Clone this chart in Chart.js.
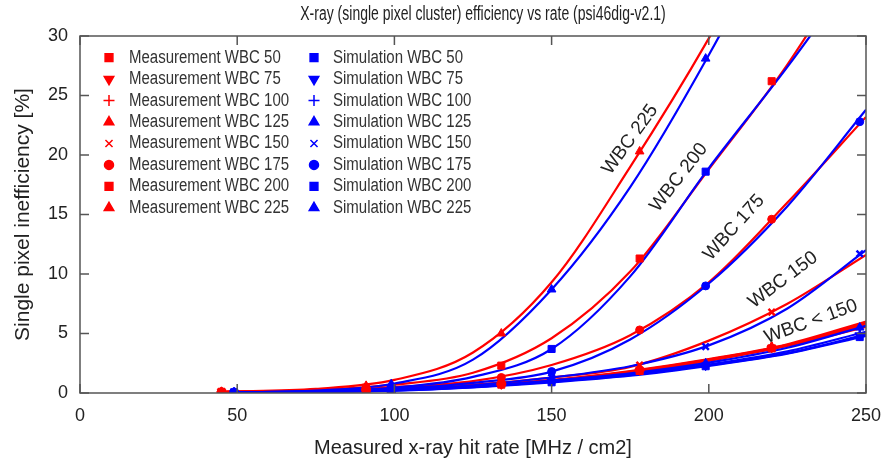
<!DOCTYPE html>
<html>
<head>
<meta charset="utf-8">
<script src="https://cdn.jsdelivr.net/npm/chart.js@4.4.0/dist/chart.umd.min.js"></script>
<style>
  html, body { margin: 0; padding: 0; background: #fff; }
</style>
</head>
<body>
<canvas id="effChart" width="886" height="460"></canvas>
<script>
// WBC settings shown in the legend
const wbcValues = [50, 75, 100, 125, 150, 175, 200, 225];

// marker x positions (hit rate, MHz/cm2)
const measX = [45, 91, 134, 178, 220];
const simX = [49, 99, 150, 199, 248];

// measured inefficiency points [%]
const meas50 = [0.05, 0.24, 0.70, 1.85, 3.75];
const meas75 = [0.06, 0.25, 0.72, 1.90, 3.80];
const meas100 = [0.07, 0.26, 0.75, 1.95, 3.85];
const meas125 = [0.08, 0.28, 0.80, 2.00, 3.90];
const meas150 = [0.10, 0.30, 0.90, 2.35, 6.80];
const meas175 = [0.10, 0.35, 1.30, 5.30, 14.6];
const meas200 = [0.10, 0.45, 2.30, 11.3, 26.2];
const meas225 = [0.10, 0.60, 5.00, 20.3, null];

// simulated inefficiency points [%]
const sim50 = [0.03, 0.18, 0.90, 2.25, 4.70];
const sim75 = [0.03, 0.20, 0.95, 2.30, 4.80];
const sim100 = [0.04, 0.20, 1.00, 2.35, 5.00];
const sim125 = [0.04, 0.22, 1.05, 2.50, 5.50];
const sim150 = [0.05, 0.25, 1.30, 3.90, 11.7];
const sim175 = [0.05, 0.30, 1.80, 9.00, 22.8];
const sim200 = [0.05, 0.40, 3.70, 18.6, null];
const sim225 = [0.05, 0.75, 8.70, 28.1, null];

// fitted curves
const measFitX = [45, 75, 100, 125, 150, 175, 200, 225, 250];
const measFit50 = [0.05, 0.15, 0.31, 0.54, 0.97, 1.70, 2.70, 3.95, 5.55];
const measFit75 = [0.06, 0.15, 0.32, 0.56, 1.00, 1.75, 2.75, 4.00, 5.70];
const measFit100 = [0.07, 0.16, 0.33, 0.58, 1.05, 1.80, 2.80, 4.05, 5.85];
const measFit125 = [0.08, 0.17, 0.35, 0.62, 1.10, 1.85, 2.85, 4.10, 6.00];
const measFit150 = [0.10, 0.18, 0.40, 0.70, 1.30, 2.20, 4.40, 7.50, 11.6];
const measFit175 = [0.10, 0.20, 0.50, 1.00, 2.35, 4.85, 9.30, 16.0, 23.2];
const measFit200 = [0.10, 0.25, 0.70, 1.70, 4.60, 10.2, 18.8, 27.6, 38.0];
const measFit225 = [0.10, 0.35, 1.10, 3.40, 9.30, 19.0, 29.8, 42.0, 56.0];

const simFitX = [49, 75, 100, 125, 150, 175, 200, 225, 250];
const simFit50 = [0.03, 0.09, 0.20, 0.48, 0.90, 1.45, 2.28, 3.30, 4.80];
const simFit75 = [0.03, 0.09, 0.21, 0.50, 0.95, 1.50, 2.33, 3.35, 4.90];
const simFit100 = [0.04, 0.10, 0.22, 0.52, 1.00, 1.55, 2.40, 3.50, 5.15];
const simFit125 = [0.04, 0.10, 0.24, 0.55, 1.05, 1.65, 2.55, 3.80, 5.65];
const simFit150 = [0.05, 0.12, 0.28, 0.65, 1.30, 2.25, 4.00, 7.10, 12.0];
const simFit175 = [0.05, 0.13, 0.35, 0.85, 1.80, 4.50, 9.20, 15.7, 23.8];
const simFit200 = [0.05, 0.15, 0.45, 1.35, 3.70, 9.80, 18.9, 27.4, 36.5];
const simFit225 = [0.05, 0.20, 0.80, 2.80, 8.70, 17.3, 28.4, 41.0, 55.0];

// axis ticks
const xTicks = [0, 50, 100, 150, 200, 250];
const yTicks = [0, 5, 10, 15, 20, 25, 30];

// labels written along the curves
const curveLabels = ['WBC 225', 'WBC 200', 'WBC 175', 'WBC 150', 'WBC < 150'];
const curveLabelX = [175, 190.5, 208, 223.6, 232.5];
const curveLabelY = [21.3, 18.1, 13.9, 9.5, 6.0];
const curveLabelAngle = [-54, -52, -48, -37, -20];

const RED = '#ff0000';
const BLUE = '#0000ff';
const INK = '#222222';
const FONT = "'Liberation Sans', Arial, sans-serif";

const measSets = [meas50, meas75, meas100, meas125, meas150, meas175, meas200, meas225];
const simSets = [sim50, sim75, sim100, sim125, sim150, sim175, sim200, sim225];
const measFits = [measFit50, measFit75, measFit100, measFit125, measFit150, measFit175, measFit200, measFit225];
const simFits = [simFit50, simFit75, simFit100, simFit125, simFit150, simFit175, simFit200, simFit225];

// marker style per WBC (gnuplot point types)
const markStyle = ['rect', 'triangle', 'cross', 'triangle', 'crossRot', 'circle', 'rect', 'triangle'];
const markRot = [0, 180, 0, 0, 0, 0, 0, 0];
const markRadius = [5.5, 5.5, 5.5, 5.5, 5, 4.5, 5.5, 5.5];
const markBorder = [1, 1, 2.5, 1, 2.5, 1, 1, 1];

function toPoints(xs, ys) {
  return xs.map((x, i) => ({ x: x, y: ys[i] }));
}

let datasets = [];
// markers on top
for (let i = 0; i < wbcValues.length; i++) {
  [[simX, simSets[i], BLUE, 'Simulation'], [measX, measSets[i], RED, 'Measurement']].forEach(s => {
    datasets.push({
      label: s[3] + ' WBC ' + wbcValues[i],
      data: toPoints(s[0], s[1]),
      showLine: false,
      pointStyle: markStyle[i],
      rotation: markRot[i],
      pointRadius: markRadius[i] - 0.5,
      pointBorderWidth: markBorder[i],
      backgroundColor: s[2],
      borderColor: s[2]
    });
  });
}
// blue fit curves, then red below them
[[simFitX, simFits, BLUE], [measFitX, measFits, RED]].forEach(s => {
  for (let i = 0; i < wbcValues.length; i++) {
    datasets.push({
      label: 'fit',
      data: toPoints(s[0], s[1][i]),
      borderColor: s[2],
      borderWidth: 2.2,
      pointRadius: 0,
      cubicInterpolationMode: 'monotone',
      capBezierPoints: false
    });
  }
});

function stretchedText(ctx, text, x, y, sy) {
  ctx.save();
  ctx.translate(x, y);
  ctx.scale(1, sy);
  ctx.fillText(text, 0, 0);
  ctx.restore();
}

const gnuplotFrame = {
  id: 'gnuplotFrame',
  afterDraw(chart) {
    const ctx = chart.ctx;
    const a = chart.chartArea;
    const xs = chart.scales.x, ys = chart.scales.y;
    ctx.save();
    // frame and inward ticks
    ctx.strokeStyle = '#555';
    ctx.lineWidth = 1.5;
    ctx.strokeRect(a.left, a.top, a.right - a.left, a.bottom - a.top);
    ctx.beginPath();
    xTicks.forEach(v => {
      const p = xs.getPixelForValue(v);
      ctx.moveTo(p, a.bottom); ctx.lineTo(p, a.bottom - 9);
      ctx.moveTo(p, a.top); ctx.lineTo(p, a.top + 9);
    });
    yTicks.forEach(v => {
      const p = ys.getPixelForValue(v);
      ctx.moveTo(a.left, p); ctx.lineTo(a.left + 9, p);
      ctx.moveTo(a.right, p); ctx.lineTo(a.right - 9, p);
    });
    ctx.stroke();

    // title
    ctx.fillStyle = INK;
    ctx.textAlign = 'center';
    ctx.textBaseline = 'middle';
    ctx.font = '14px ' + FONT;
    stretchedText(ctx, 'X-ray (single pixel cluster) efficiency vs rate (psi46dig-v2.1)', 483, 15, 1.4);

    // legend, two columns
    ctx.textAlign = 'left';
    ctx.font = '15px ' + FONT;
    for (let i = 0; i < wbcValues.length; i++) {
      const y = 57.7 + 21.44 * i;
      [[109, 129, RED, 'Measurement'], [314, 333, BLUE, 'Simulation']].forEach(c => {
        ctx.fillStyle = c[2];
        ctx.strokeStyle = c[2];
        Chart.helpers.drawPoint(ctx, {
          pointStyle: markStyle[i], rotation: markRot[i],
          radius: markRadius[i], borderWidth: markBorder[i]
        }, c[0], y);
        ctx.fillStyle = '#333';
        stretchedText(ctx, c[3] + ' WBC ' + wbcValues[i], c[1], y, 1.2);
      });
    }

    // labels along curves
    ctx.fillStyle = INK;
    ctx.textAlign = 'center';
    ctx.font = '19px ' + FONT;
    curveLabels.forEach((t, i) => {
      ctx.save();
      ctx.translate(xs.getPixelForValue(curveLabelX[i]), ys.getPixelForValue(curveLabelY[i]));
      ctx.rotate(curveLabelAngle[i] * Math.PI / 180);
      ctx.fillText(t, 0, 0);
      ctx.restore();
    });
    ctx.restore();
  }
};

let context = document.getElementById('effChart').getContext('2d');
let effChart = new Chart(context, {
  type: 'line',
  data: { datasets: datasets },
  options: {
    responsive: false,
    animation: false,
    devicePixelRatio: 1,
    layout: { padding: { top: 36, right: 20, left: 0, bottom: 0 } },
    plugins: {
      legend: { display: false },
      tooltip: { enabled: false }
    },
    scales: {
      x: {
        type: 'linear',
        min: 0,
        max: 250,
        afterFit: s => { s.height = 67; s.paddingLeft = 0; s.paddingRight = 0; },
        ticks: { stepSize: 50, padding: 12, color: INK, font: { family: FONT, size: 18 } },
        grid: { display: false, drawTicks: false },
        border: { display: false },
        title: {
          display: true,
          text: 'Measured x-ray hit rate [MHz / cm2]',
          color: INK,
          font: { family: FONT, size: 20 },
          padding: { top: 10, bottom: 0 }
        }
      },
      y: {
        min: 0,
        max: 30,
        afterFit: s => { s.width = 80; s.paddingTop = 0; s.paddingBottom = 0; },
        ticks: { stepSize: 5, padding: 12, color: INK, font: { family: FONT, size: 18 } },
        grid: { display: false, drawTicks: false },
        border: { display: false },
        title: {
          display: true,
          text: 'Single pixel inefficiency [%]',
          color: INK,
          font: { family: FONT, size: 21 },
          padding: { top: 11, bottom: 0 }
        }
      }
    }
  },
  plugins: [gnuplotFrame]
});
</script>
</body>
</html>
